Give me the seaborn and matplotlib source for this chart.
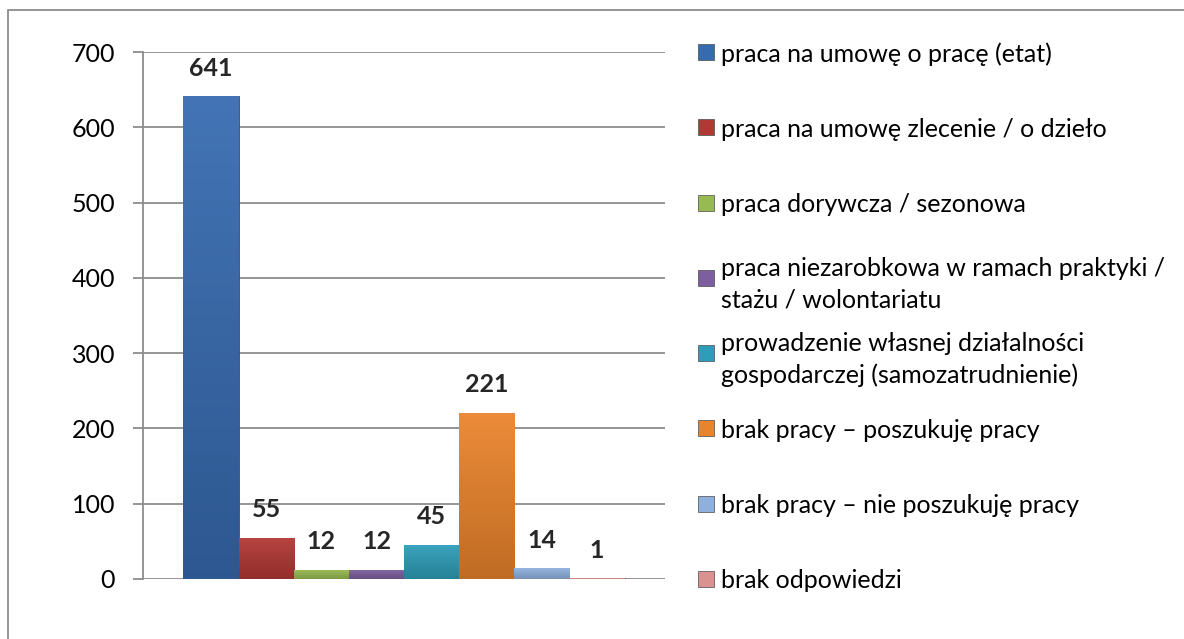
import matplotlib
matplotlib.use("Agg")
import matplotlib.pyplot as plt
import matplotlib.transforms as mtransforms
from matplotlib.colors import to_rgb
from matplotlib.patches import Rectangle
import numpy as np
import seaborn as sns
import pandas as pd

# dane z wykresu
labels = [
    "praca na umowę o pracę (etat)",
    "praca na umowę zlecenie / o dzieło",
    "praca dorywcza / sezonowa",
    "praca niezarobkowa w ramach praktyki /\nstażu / wolontariatu",
    "prowadzenie własnej działalności\ngospodarczej (samozatrudnienie)",
    "brak pracy – poszukuję pracy",
    "brak pracy – nie poszukuję pracy",
    "brak odpowiedzi",
]
values = [641, 55, 12, 12, 45, 221, 14, 1]
colors = ["#376BB0", "#B23835", "#98BA52", "#7D5F9F",
          "#2E9DB9", "#EA842C", "#8FB0DC", "#D9928F"]

df = pd.DataFrame({"grupa": [""] * len(labels), "kategoria": labels, "liczba": values})

sns.set_style("white")
plt.rcParams["font.family"] = ["Lato", "DejaVu Sans"]

fig = plt.figure(figsize=(11.84, 6.39), dpi=100)
ax = fig.add_axes([143 / 1184, 1 - 579 / 639, 522 / 1184, 527 / 639])

sns.barplot(data=df, x="grupa", y="liczba", hue="kategoria", hue_order=labels,
            palette=colors, width=0.845, gap=0, dodge=True, legend=False,
            saturation=1, ax=ax, edgecolor="#4a4a4a", linewidth=0.6)


def shade(c, f):
    c = np.array(to_rgb(c))
    return c + (1 - c) * f if f > 0 else c * (1 + f)


# cieniowanie słupków (efekt jak w Excelu)
for patch, col in zip(ax.patches, colors):
    x0, y0 = patch.get_x(), patch.get_y()
    w, h = patch.get_width(), patch.get_height()
    t = np.linspace(0, 1, 64)[:, None]
    grad = shade(col, 0.06) * (1 - t) + shade(col, -0.18) * t
    img = ax.imshow(grad[:, None, :], extent=(x0, x0 + w, y0, y0 + h),
                    origin="upper", aspect="auto", zorder=patch.get_zorder() + 0.1)
    img.set_clip_path(patch)

ax.set_xlim(-0.5, 0.5)
ax.set_ylim(0, 700)
ax.set_yticks(range(0, 701, 100))
ax.set_xlabel("")
ax.set_ylabel("")
ax.set_xticks([])
ax.grid(axis="y", color="#8c8c8c", linewidth=1.3)
ax.set_axisbelow(True)
for s in ["top", "right", "bottom"]:
    ax.spines[s].set_visible(False)
ax.spines["left"].set_color("#8c8c8c")
ax.spines["left"].set_linewidth(1.3)
ax.tick_params(axis="y", left=True, length=7, width=1.3, color="#8c8c8c",
               labelsize=18, pad=13, labelcolor="black")

# etykiety wartości
for cont in ax.containers:
    ax.bar_label(cont, padding=12, fontsize=18, fontweight="bold", zorder=5)

# legenda po prawej, wyrównana do linii siatki
trans = mtransforms.blended_transform_factory(ax.transAxes, ax.transData)
ys = list(ax.get_yticks())[::-1]
for lab, col, y in zip(labels, colors, ys):
    ax.plot([1.079], [y], marker="s", markersize=11, color=col,
            markeredgecolor="#4a4a4a", markeredgewidth=0.5,
            transform=trans, clip_on=False)
    ax.text(1.108, y, lab, transform=trans, va="center_baseline", ha="left",
            fontsize=18, linespacing=1.45, color="black")

# ramka wokół całego wykresu
fig.patches.append(Rectangle((8 / 1184, -0.1), 1.2, 1 - 10 / 639 + 0.1,
                             transform=fig.transFigure, fill=False,
                             edgecolor="#8c8c8c", linewidth=1.3))

fig.savefig("out.png", dpi=100)
